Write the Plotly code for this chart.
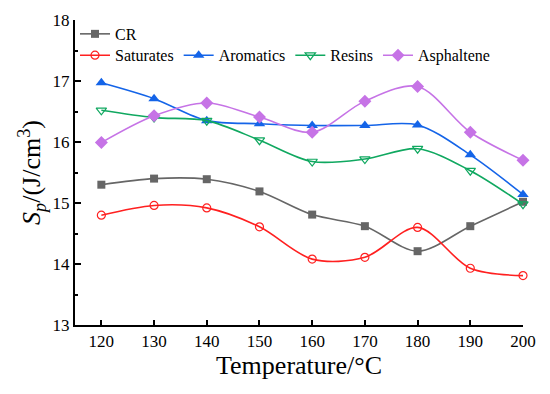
import plotly.graph_objects as go

temps = [120, 130, 140, 150, 160, 170, 180, 190, 200]
cr = [15.30, 15.40, 15.39, 15.19, 14.81, 14.62, 14.21, 14.62, 15.02]
saturates = [14.80, 14.96, 14.92, 14.61, 14.08, 14.11, 14.60, 13.93, 13.81]
aromatics = [16.97, 16.71, 16.35, 16.30, 16.27, 16.27, 16.28, 15.79, 15.14]
resins = [16.52, 16.40, 16.35, 16.03, 15.68, 15.72, 15.89, 15.53, 14.98]
asphaltene = [15.99, 16.43, 16.64, 16.41, 16.16, 16.67, 16.91, 16.16, 15.70]

FONT = "Liberation Serif"

fig = go.Figure()

series = [
    ("CR", cr, "#666666", dict(symbol="square", size=8, color="#666666"), "legend"),
    ("Saturates", saturates, "#FF2020",
     dict(symbol="circle-open", size=8, color="#FF2020", line=dict(width=1.2)), "legend2"),
    ("Aromatics", aromatics, "#1464E8", dict(symbol="triangle-up", size=10, color="#1464E8"), "legend2"),
    ("Resins", resins, "#10A860",
     dict(symbol="triangle-down-open", size=9, color="#10A860", line=dict(width=1.2)), "legend2"),
    ("Asphaltene", asphaltene, "#C673E6", dict(symbol="diamond", size=10, color="#C673E6"), "legend2"),
]

for name, vals, col, mk, lg in series:
    fig.add_trace(go.Scatter(
        x=temps, y=vals, name=name, mode="lines+markers",
        line=dict(color=col, width=1.6, shape="spline", smoothing=0.9),
        marker=mk, legend=lg, cliponaxis=False,
    ))

fig.update_layout(
    width=542, height=386,
    margin=dict(l=67, r=27, t=12, b=69, autoexpand=False),
    paper_bgcolor="white", plot_bgcolor="white",
    font=dict(family=FONT, size=16, color="black"),
    showlegend=True,
    legend=dict(x=0.0, y=1.01, xanchor="left", yanchor="top",
                orientation="h", bgcolor="rgba(0,0,0,0)",
                font=dict(family=FONT, size=16, color="black"), tracegroupgap=0,
                itemwidth=30),
    legend2=dict(x=0.0, y=0.94, xanchor="left", yanchor="top",
                 orientation="h", bgcolor="rgba(0,0,0,0)",
                 font=dict(family=FONT, size=16, color="black"), tracegroupgap=0,
                 itemwidth=30),
    xaxis=dict(
        range=[115, 200], tickmode="array", tickvals=temps, automargin=False,
        ticks="inside", ticklen=5, tickwidth=2, tickcolor="black",
        showline=True, linewidth=2, linecolor="black", mirror=False,
        showgrid=False, zeroline=False,
        tickfont=dict(family=FONT, size=17, color="black"),
        title=dict(text="Temperature/°C", font=dict(family=FONT, size=26, color="black"), standoff=2),
    ),
    yaxis=dict(
        range=[13, 18], tickmode="array", tickvals=[13, 14, 15, 16, 17, 18], automargin=False,
        ticks="inside", ticklen=6, tickwidth=2, tickcolor="black",
        minor=dict(ticks="inside", ticklen=3, tickwidth=2, tickcolor="black", dtick=0.5, tick0=13),
        showline=True, linewidth=2, linecolor="black", mirror=False,
        showgrid=False, zeroline=False,
        tickfont=dict(family=FONT, size=17, color="black"),
        title=dict(text="<i>S</i><sub><i>p</i></sub>/(J/cm<sup>3</sup>)",
                   font=dict(family=FONT, size=26, color="black"), standoff=4),
    ),
)

fig.write_html("out.html")
